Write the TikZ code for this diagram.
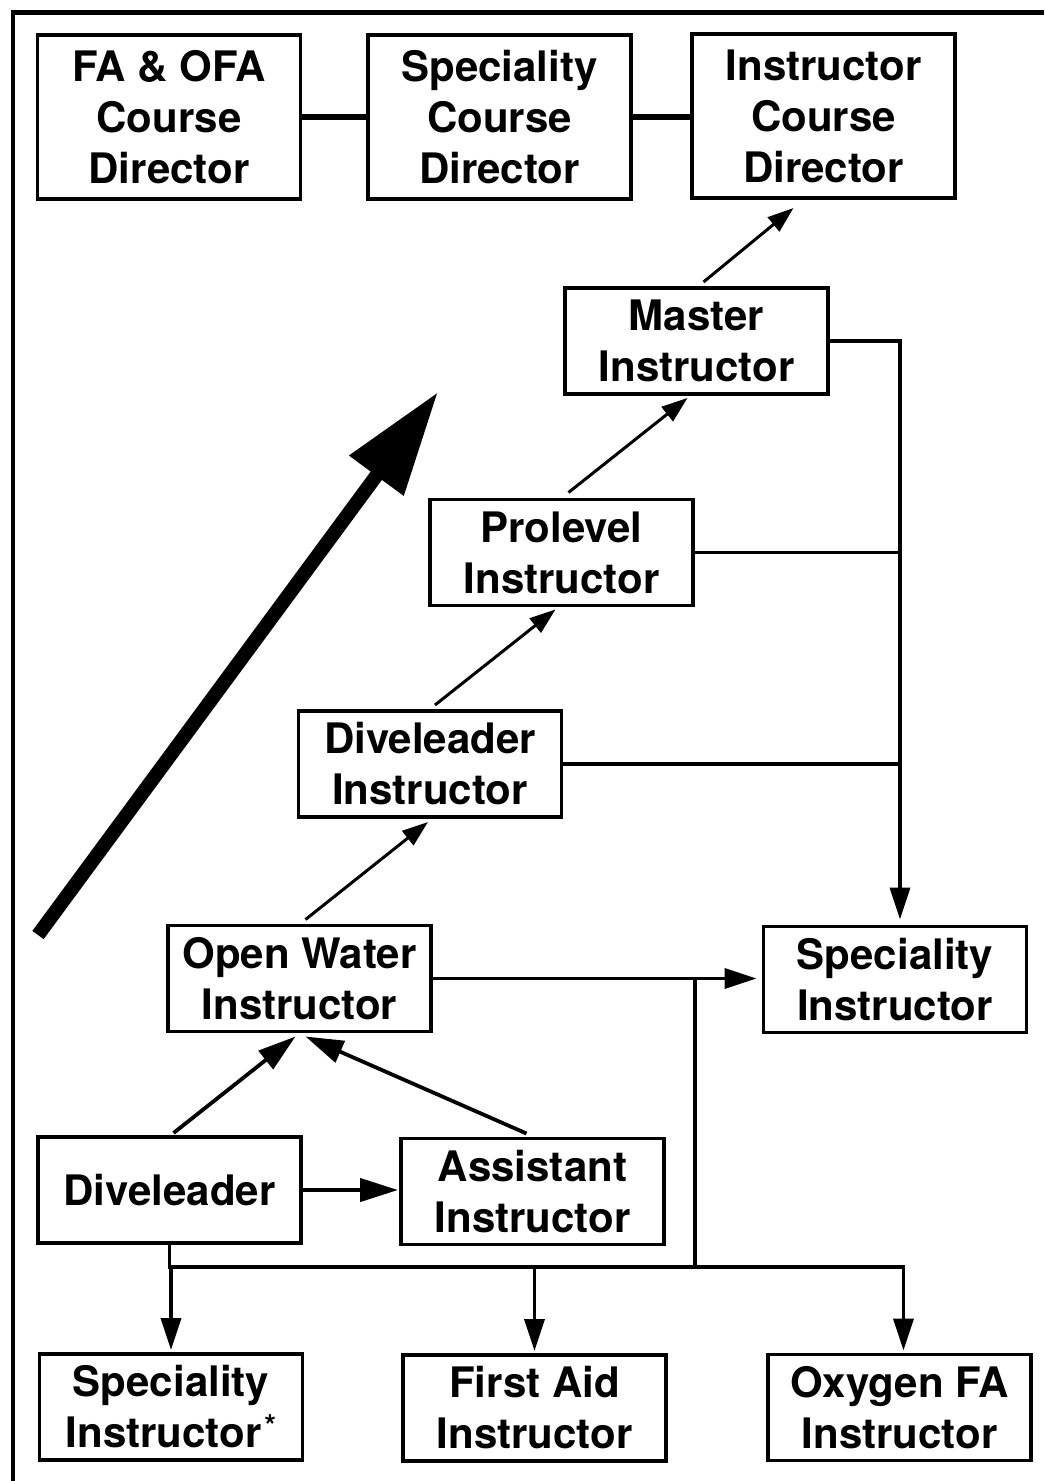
\documentclass[tikz,border=0pt]{standalone}
\usepackage{fontspec}
\setmainfont{TeX Gyre Heros}
\usetikzlibrary{arrows.meta,calc}
\begin{document}
\begin{tikzpicture}[x=0.5pt,y=-0.5pt,
  box/.style={draw, line width=1.6pt, rectangle, inner sep=0pt, outer sep=0pt,
    minimum width=131.5pt, minimum height=53pt, align=center,
    font=\bfseries\fontsize{21}{25.5}\selectfont},
  tall/.style={minimum height=82pt},
  thinarrow/.style={line width=1.5pt, -{Triangle[length=13pt,width=9pt]}},
  midarrow/.style={line width=1.9pt, -{Triangle[length=19pt,width=11.5pt]}},
  bus/.style={line width=1.9pt},
  busarrow/.style={line width=1.9pt, -{Triangle[length=16pt,width=10pt]}},
  toplink/.style={line width=3pt}]
\useasboundingbox (0,0) rectangle (1044,1481);
% frame
\draw[line width=2.2pt, line join=miter] (13,1481) -- (13,12.5) -- (1044,12.5);
% nodes
\node[box,tall] (fa) at (169,117) {FA \& OFA\\Course\\Director};
\node[box,tall] (scd) at (499.5,117) {Speciality\\Course\\Director};
\node[box,tall] (icd) at (823.5,116) {Instructor\\Course\\Director};
\node[box] (mi) at (696.5,341) {Master\\Instructor};
\node[box] (pi) at (561.5,552.5) {Prolevel\\Instructor};
\node[box] (dli) at (430,764) {Diveleader\\Instructor};
\node[box] (owi) at (299.5,978.5) {Open Water\\Instructor};
\node[box] (si) at (895,979.5) {Speciality\\Instructor};
\node[box] (dl) at (169.5,1190) {Diveleader};
\node[box] (ai) at (532.5,1191.5) {Assistant\\Instructor};
\node[box] (sis) at (171,1407) {Speciality\\Instructor\kern1.5pt\raisebox{0.28em}{\fontsize{15}{15}\selectfont *}};
\node[box] (fai) at (534.5,1408) {First Aid\\Instructor};
\node[box] (ofa) at (899.5,1407.5) {Oxygen FA\\Instructor};
% top links
\draw[toplink] (fa.east) -- (fa.east -| scd.west);
\draw[toplink] (scd.east) -- (scd.east -| icd.west);
% diagonal arrows
\draw[thinarrow] ($(mi.north)+(7,-6)$) -- ($(icd.south)+(-30,10)$);
\draw[thinarrow] ($(pi.north)+(7,-7)$) -- ($(mi.south)+(-9,4)$);
\draw[thinarrow] ($(dli.north)+(5,-6)$) -- ($(pi.south)+(-6,4)$);
\draw[thinarrow] ($(owi.north)+(6,-6)$) -- ($(dli.south)+(-2,5)$);
\draw[midarrow] ($(dl.north)+(4,-4)$) -- ($(owi.south)+(-4,5)$);
\draw[midarrow] ($(ai.north)+(-6,-5)$) -- ($(owi.south)+(6,5)$);
\draw[midarrow, line width=2.1pt, shorten >=1.5pt] (dl.east) -- (dl.east -| ai.west);
% right bus
\coordinate (rb) at ($(si.north)+(5,0)$);
\draw[busarrow, shorten >=3.5pt] (mi.east) -| (rb);
\draw[bus] (pi.east) -- (pi.east -| rb);
\draw[bus] (dli.east) -- (dli.east -| rb);
\draw[busarrow, shorten >=3.5pt] (owi.east) -- (owi.east -| si.west);
% junction and bottom bus
\coordinate (jt) at (695,978.5);
\coordinate (bb) at ($(dl.south)+(0,24)$);
\draw[bus] (jt) -- (jt |- bb);
\draw[bus, line cap=rect] (dl.south) -- (bb) -- ($(bb -| ofa.north)+(4,0)$);
\draw[busarrow, shorten >=2pt] (bb -| sis.north) -- (sis.north);
\draw[busarrow, shorten >=2pt] (bb -| fai.north) -- (fai.north);
\draw[busarrow, shorten >=2pt] ($(bb -| ofa.north)+(4,0)$) -- ($(ofa.north)+(4,0)$);
% big progression arrow
\coordinate (bt) at (38,935);
\coordinate (bh) at (438,392);
\draw[line width=7pt, -{Triangle[length=52pt,width=32pt]}] (bt) -- (bh);
\end{tikzpicture}
\end{document}
